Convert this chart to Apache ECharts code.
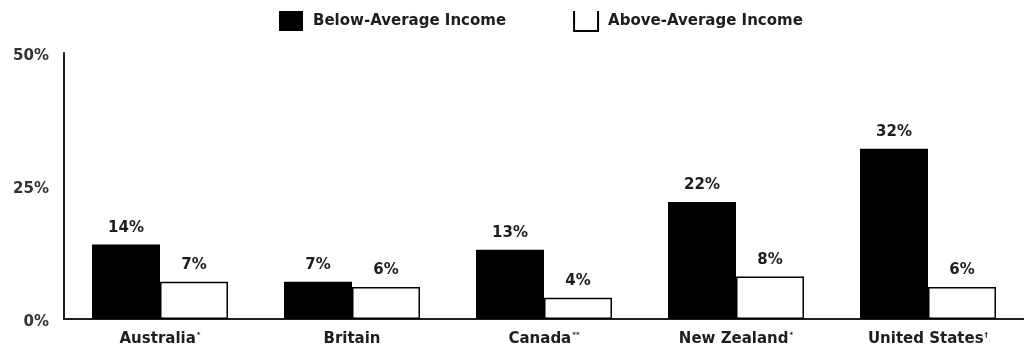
<!DOCTYPE html>
<html>
<head>
<meta charset="utf-8">
<script src="https://cdn.jsdelivr.net/npm/echarts@6/dist/echarts.min.js"></script>
<style>
  html, body { margin: 0; padding: 0; background: #fff; }
  #chart { width: 1024px; height: 354px; }
</style>
</head>
<body>
<div id="chart"></div>
<script>
// Countries and their footnote marks
const countries = ['Australia', 'Britain', 'Canada', 'New Zealand', 'United States'];
const footnotes = ['*', '', '**', '*', '\u2020'];

// Share of each income group, in percent
const belowAverage = [14, 7, 13, 22, 32];
const aboveAverage = [7, 6, 4, 8, 6];

// Value axis
const yMin = 0;
const yMax = 50;
const yStep = 25;

const FONT = '"DejaVu Sans", Verdana, sans-serif';
const INK = '#1e1e1e';
const SIZE = 15;

const chart = echarts.init(document.getElementById('chart'), null, { renderer: 'canvas' });

const valueLabel = {
  show: true,
  position: 'top',
  distance: 9,
  formatter: '{c}%',
  color: INK,
  fontFamily: FONT,
  fontWeight: 'bold',
  fontSize: SIZE
};

chart.setOption({
  animation: false,
  backgroundColor: '#fff',
  legend: {
    left: 274,
    top: 5,
    itemWidth: 24,
    itemHeight: 20,
    itemGap: 67,
    textStyle: { color: INK, fontFamily: FONT, fontWeight: 'bold', fontSize: SIZE, padding: [0, 0, 0, 5] },
    data: [
      { name: 'Below-Average Income', icon: 'rect' },
      { name: 'Above-Average Income', icon: 'path://M0,0 L0,20 L24,20 L24,0' }
    ]
  },
  grid: { left: 64, right: 0, top: 53, bottom: 35 },
  xAxis: {
    type: 'category',
    data: countries,
    axisLine: { lineStyle: { color: INK, width: 2 } },
    axisTick: { show: false },
    axisLabel: {
      margin: 13,
      formatter: function (v, i) {
        const note = footnotes[i];
        return note ? '{n|' + v + '}{s|' + note + '}' : '{n|' + v + '}';
      },
      rich: {
        n: { color: INK, fontFamily: FONT, fontWeight: 'bold', fontSize: SIZE },
        s: { color: INK, fontFamily: FONT, fontWeight: 'bold', fontSize: 7, verticalAlign: 'top', padding: [0, 0, 8, 1] }
      }
    }
  },
  yAxis: {
    type: 'value',
    min: yMin,
    max: yMax,
    interval: yStep,
    splitLine: { show: false },
    axisTick: { show: false },
    axisLine: { show: true, lineStyle: { color: INK, width: 2 } },
    axisLabel: {
      margin: 15,
      formatter: '{v|{value}%}',
      rich: {
        v: {
          color: '#333',
          fontFamily: FONT,
          fontWeight: 'bold',
          fontSize: SIZE,
          padding: [6, 0, 0, 0]
        }
      }
    }
  },
  series: [
    {
      name: 'Below-Average Income',
      type: 'bar',
      data: belowAverage,
      barWidth: 68,
      barGap: '0%',
      itemStyle: { color: '#000' },
      label: valueLabel
    },
    {
      name: 'Above-Average Income',
      type: 'bar',
      data: aboveAverage,
      barWidth: 68,
      itemStyle: { color: '#fff', borderColor: '#000', borderWidth: 1.5 },
      label: valueLabel
    }
  ]
});
</script>
</body>
</html>
